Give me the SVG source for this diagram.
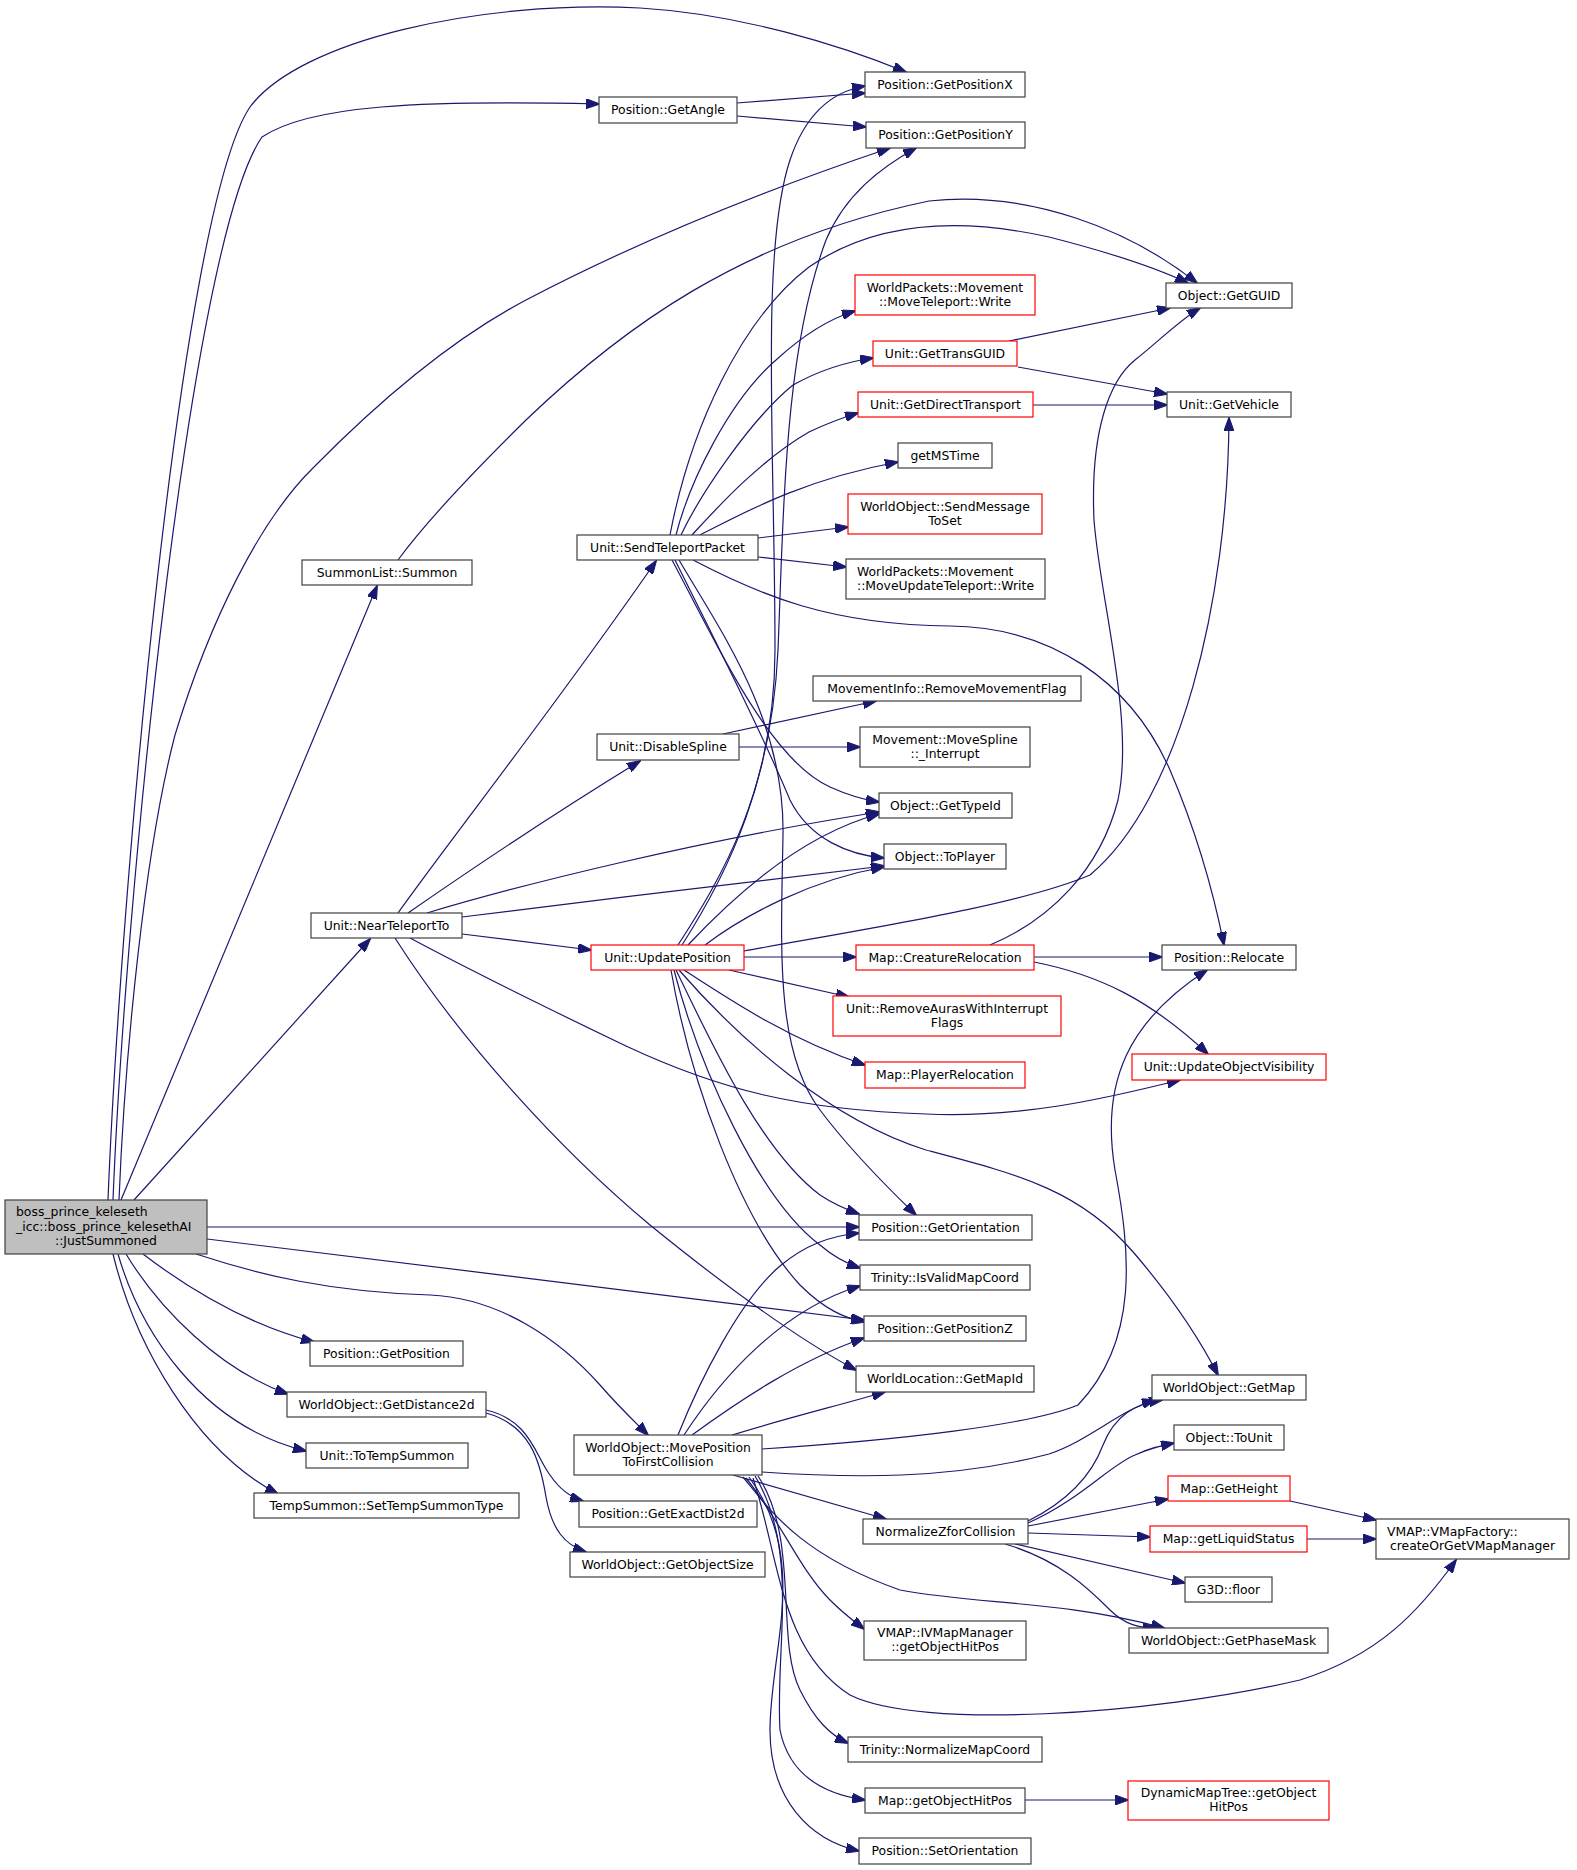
<svg xmlns="http://www.w3.org/2000/svg" width="1577" height="1870" viewBox="0 0 1577 1870">
<style>
rect{fill:#fff;stroke:#404040;stroke-width:1.2}
.r rect{stroke:#ff0000}
.m rect{fill:#bfbfbf}
text{font-family:"DejaVu Sans","Liberation Sans",sans-serif;font-size:12.4px;fill:#000;text-anchor:middle}
text.l{text-anchor:start}
#edges path{fill:none;stroke:#191970;stroke-width:1.2;marker-end:url(#a)}
</style>
<defs>
<marker id="a" markerWidth="14" markerHeight="10" refX="13" refY="5" orient="auto" markerUnits="userSpaceOnUse"><path d="M0,0 L14,5 L0,10 z" fill="#191970" stroke="#191970" stroke-width="1"/></marker>
</defs>
<rect x="0" y="0" width="1577" height="1870" style="fill:#fff;stroke:none"/>
<g id="edges">
<path d="M108,1200 C120,900 180,210 250,107 C300,40 480,0 640,8 C740,14 840,45 906,72"/>
<path d="M113,1200 C125,900 190,240 262,137 C310,105 420,100 599,104"/>
<path d="M119,1200 C125,1050 145,850 175,735 C210,620 260,520 313,468 C380,400 450,340 526,300 C650,235 780,185 890,148"/>
<path d="M121,1200 L377,586"/>
<path d="M134,1200 L370,939"/>
<path d="M207,1227 L859,1227"/>
<path d="M207,1239 C400,1262 700,1300 864,1320"/>
<path d="M143,1254 C190,1290 250,1325 314,1342"/>
<path d="M126,1254 C160,1310 220,1370 288,1394"/>
<path d="M118,1254 C140,1330 200,1425 306,1451"/>
<path d="M113,1254 C135,1345 195,1450 278,1494"/>
<path d="M196,1254 C260,1275 330,1292 430,1295 C500,1298 560,1340 600,1385 C620,1408 635,1422 648,1435"/>
<path d="M398,913 C450,840 560,700 656,561"/>
<path d="M408,913 C470,870 560,810 640,761"/>
<path d="M427,913 C520,885 700,840 879,812"/>
<path d="M462,917 C600,900 760,880 884,866"/>
<path d="M462,934 L591,950"/>
<path d="M395,938 C460,1040 560,1150 650,1225 C730,1290 800,1340 856,1370"/>
<path d="M410,938 C470,970 530,1000 626,1046 C720,1090 800,1110 926,1114 C1020,1118 1100,1100 1180,1080"/>
<path d="M670,535 C690,430 740,320 809,267 C870,225 950,215 1049,237 C1100,250 1150,265 1188,283"/>
<path d="M398,560 C420,530 460,485 526,420 C620,330 740,240 929,201 C1030,190 1130,230 1197,283"/>
<path d="M676,535 C690,480 730,400 776,360 C800,338 825,320 855,311"/>
<path d="M681,535 C700,495 750,420 793,385 C820,370 845,362 873,358"/>
<path d="M692,535 C715,510 760,460 809,432 C830,422 845,417 858,413"/>
<path d="M700,535 C740,515 800,480 898,462"/>
<path d="M758,538 L848,527"/>
<path d="M758,557 L846,567"/>
<path d="M693,560 C760,595 830,625 950,626 C1050,627 1130,680 1170,770 C1200,840 1215,900 1224,945"/>
<path d="M672,560 C720,650 770,760 830,787 C850,796 865,800 879,802"/>
<path d="M675,560 C720,650 765,740 790,800 C810,840 850,855 884,858"/>
<path d="M679,560 C720,630 785,720 783,835 C781,950 775,1050 820,1110 C850,1150 890,1190 916,1215"/>
<path d="M678,945 C720,880 775,790 775,650 C775,450 760,250 790,160 C805,115 830,92 865,86"/>
<path d="M682,945 C730,870 772,780 778,650 C784,500 785,350 826,240 C845,195 880,168 916,148"/>
<path d="M688,945 C730,900 800,835 879,814"/>
<path d="M705,945 C745,915 810,880 884,867"/>
<path d="M744,951 C870,928 1020,905 1090,875 C1180,800 1228,600 1229,418"/>
<path d="M744,957 L856,957"/>
<path d="M729,970 L849,997"/>
<path d="M684,970 C730,1000 790,1040 865,1065"/>
<path d="M679,970 C740,1040 830,1120 926,1150 C1020,1175 1080,1190 1134,1253 C1170,1295 1200,1340 1218,1375"/>
<path d="M676,970 C710,1040 760,1150 820,1195 C835,1205 848,1210 859,1214"/>
<path d="M674,970 C700,1070 760,1200 820,1245 C835,1258 848,1264 860,1268"/>
<path d="M671,970 C690,1080 740,1220 800,1285 C825,1310 845,1318 864,1322"/>
<path d="M1034,957 L1162,957"/>
<path d="M990,945 C1050,920 1100,870 1118,800 C1135,720 1100,600 1094,520 C1090,430 1110,380 1135,360 C1160,340 1180,320 1200,308"/>
<path d="M1034,962 C1100,975 1150,1000 1208,1054"/>
<path d="M1009,341 L1170,308"/>
<path d="M1018,367 L1167,394"/>
<path d="M1033,405 L1167,405"/>
<path d="M737,103 L865,93"/>
<path d="M737,116 L866,127"/>
<path d="M723,734 L876,701"/>
<path d="M739,747 L860,747"/>
<path d="M678,1435 C700,1380 740,1300 780,1266 C805,1245 830,1236 859,1233"/>
<path d="M684,1435 C720,1380 780,1310 860,1286"/>
<path d="M692,1435 C740,1400 800,1360 864,1338"/>
<path d="M732,1435 C780,1420 840,1405 885,1392"/>
<path d="M762,1449 C900,1440 1030,1425 1078,1405 C1140,1340 1130,1250 1115,1170 C1100,1080 1130,1020 1207,970"/>
<path d="M762,1472 C850,1478 950,1480 1049,1454 C1090,1440 1120,1410 1155,1400"/>
<path d="M733,1475 L886,1519"/>
<path d="M743,1477 C770,1510 800,1555 900,1590 C980,1605 1060,1600 1164,1628"/>
<path d="M746,1478 C780,1520 800,1570 830,1600 C845,1615 855,1622 864,1629"/>
<path d="M753,1478 C780,1560 780,1650 850,1695 C920,1730 1150,1715 1300,1680 C1380,1655 1420,1610 1456,1560"/>
<path d="M758,1476 C800,1540 775,1640 800,1690 C815,1720 830,1735 848,1743"/>
<path d="M755,1476 C800,1550 775,1650 780,1730 C790,1780 830,1795 865,1800"/>
<path d="M749,1477 C810,1560 770,1650 770,1730 C770,1800 810,1840 859,1851"/>
<path d="M486,1410 C530,1420 535,1455 550,1475 C560,1490 570,1497 583,1501"/>
<path d="M486,1413 C530,1425 540,1460 546,1497 C552,1530 565,1545 586,1552"/>
<path d="M1028,1521 C1060,1505 1090,1480 1103,1445 C1115,1415 1135,1404 1162,1400"/>
<path d="M1028,1523 C1080,1500 1110,1465 1135,1455 C1150,1448 1160,1446 1174,1443"/>
<path d="M1028,1526 L1168,1499"/>
<path d="M1028,1533 L1150,1537"/>
<path d="M1015,1544 L1185,1583"/>
<path d="M1005,1544 C1060,1560 1090,1590 1110,1610 C1125,1625 1140,1628 1156,1628"/>
<path d="M1290,1501 L1376,1520"/>
<path d="M1307,1539 L1376,1539"/>
<path d="M1025,1800 L1128,1800"/>
</g>
<g id="n1" class="m"><rect x="5" y="1200" width="202" height="54"/><text class="l" x="16" y="1216">boss_prince_keleseth</text><text class="l" x="16" y="1230.5">_icc::boss_prince_kelesethAI</text><text x="106" y="1245">::JustSummoned</text></g>
<g id="n2"><rect x="865" y="72" width="160" height="25"/><text x="945" y="88.5">Position::GetPositionX</text></g>
<g id="n3"><rect x="599" y="97" width="138" height="26"/><text x="668" y="114">Position::GetAngle</text></g>
<g id="n4"><rect x="866" y="122" width="159" height="26"/><text x="945.5" y="139">Position::GetPositionY</text></g>
<g id="n5"><rect x="1166" y="283" width="126" height="25"/><text x="1229" y="299.5">Object::GetGUID</text></g>
<g id="n6" class="r"><rect x="855" y="275" width="180" height="40"/><text x="945" y="291.5">WorldPackets::Movement</text><text x="945" y="305.5">::MoveTeleport::Write</text></g>
<g id="n7" class="r"><rect x="873" y="341" width="144" height="25"/><text x="945" y="357.5">Unit::GetTransGUID</text></g>
<g id="n8"><rect x="1167" y="392" width="124" height="25"/><text x="1229" y="408.5">Unit::GetVehicle</text></g>
<g id="n9" class="r"><rect x="858" y="392" width="175" height="25"/><text x="945.5" y="408.5">Unit::GetDirectTransport</text></g>
<g id="n10"><rect x="898" y="443" width="94" height="25"/><text x="945" y="459.5">getMSTime</text></g>
<g id="n11"><rect x="302" y="560" width="170" height="25"/><text x="387" y="576.5">SummonList::Summon</text></g>
<g id="n12" class="r"><rect x="848" y="494" width="194" height="40"/><text x="945" y="510.5">WorldObject::SendMessage</text><text x="945" y="524.5">ToSet</text></g>
<g id="n13"><rect x="577" y="535" width="181" height="25"/><text x="667.5" y="551.5">Unit::SendTeleportPacket</text></g>
<g id="n14"><rect x="846" y="559" width="199" height="40"/><text class="l" x="857" y="575.5">WorldPackets::Movement</text><text x="945.5" y="589.5">::MoveUpdateTeleport::Write</text></g>
<g id="n15"><rect x="813" y="676" width="268" height="25"/><text x="947" y="692.5">MovementInfo::RemoveMovementFlag</text></g>
<g id="n16"><rect x="860" y="727" width="170" height="40"/><text x="945" y="743.5">Movement::MoveSpline</text><text x="945" y="757.5">::_Interrupt</text></g>
<g id="n17"><rect x="597" y="734" width="142" height="26"/><text x="668" y="751">Unit::DisableSpline</text></g>
<g id="n18"><rect x="879" y="793" width="133" height="25"/><text x="945.5" y="809.5">Object::GetTypeId</text></g>
<g id="n19"><rect x="884" y="844" width="122" height="25"/><text x="945" y="860.5">Object::ToPlayer</text></g>
<g id="n20"><rect x="311" y="913" width="151" height="25"/><text x="386.5" y="929.5">Unit::NearTeleportTo</text></g>
<g id="n21" class="r"><rect x="591" y="945" width="153" height="25"/><text x="667.5" y="961.5">Unit::UpdatePosition</text></g>
<g id="n22" class="r"><rect x="856" y="945" width="178" height="25"/><text x="945" y="961.5">Map::CreatureRelocation</text></g>
<g id="n23"><rect x="1162" y="945" width="134" height="25"/><text x="1229" y="961.5">Position::Relocate</text></g>
<g id="n24" class="r"><rect x="833" y="996" width="228" height="40"/><text x="947" y="1012.5">Unit::RemoveAurasWithInterrupt</text><text x="947" y="1026.5">Flags</text></g>
<g id="n25" class="r"><rect x="865" y="1062" width="160" height="26"/><text x="945" y="1079">Map::PlayerRelocation</text></g>
<g id="n26" class="r"><rect x="1132" y="1054" width="194" height="26"/><text x="1229" y="1071">Unit::UpdateObjectVisibility</text></g>
<g id="n27"><rect x="859" y="1215" width="173" height="25"/><text x="945.5" y="1231.5">Position::GetOrientation</text></g>
<g id="n28"><rect x="860" y="1265" width="170" height="25"/><text x="945" y="1281.5">Trinity::IsValidMapCoord</text></g>
<g id="n29"><rect x="864" y="1316" width="162" height="25"/><text x="945" y="1332.5">Position::GetPositionZ</text></g>
<g id="n30"><rect x="310" y="1341" width="153" height="25"/><text x="386.5" y="1357.5">Position::GetPosition</text></g>
<g id="n31"><rect x="856" y="1366" width="178" height="26"/><text x="945" y="1383">WorldLocation::GetMapId</text></g>
<g id="n32"><rect x="1152" y="1375" width="154" height="25"/><text x="1229" y="1391.5">WorldObject::GetMap</text></g>
<g id="n33"><rect x="287" y="1392" width="199" height="25"/><text x="386.5" y="1408.5">WorldObject::GetDistance2d</text></g>
<g id="n34"><rect x="1174" y="1425" width="110" height="25"/><text x="1229" y="1441.5">Object::ToUnit</text></g>
<g id="n35"><rect x="574" y="1435" width="188" height="40"/><text x="668" y="1451.5">WorldObject::MovePosition</text><text x="668" y="1465.5">ToFirstCollision</text></g>
<g id="n36"><rect x="306" y="1443" width="162" height="25"/><text x="387" y="1459.5">Unit::ToTempSummon</text></g>
<g id="n37" class="r"><rect x="1168" y="1476" width="122" height="25"/><text x="1229" y="1492.5">Map::GetHeight</text></g>
<g id="n38"><rect x="254" y="1493" width="265" height="25"/><text x="386.5" y="1509.5">TempSummon::SetTempSummonType</text></g>
<g id="n39"><rect x="579" y="1501" width="178" height="26"/><text x="668" y="1518">Position::GetExactDist2d</text></g>
<g id="n40"><rect x="863" y="1519" width="165" height="25"/><text x="945.5" y="1535.5">NormalizeZforCollision</text></g>
<g id="n41" class="r"><rect x="1150" y="1526" width="157" height="26"/><text x="1228.5" y="1543">Map::getLiquidStatus</text></g>
<g id="n42"><rect x="1376" y="1519" width="193" height="40"/><text class="l" x="1387" y="1535.5">VMAP::VMapFactory::</text><text x="1472.5" y="1549.5">createOrGetVMapManager</text></g>
<g id="n43"><rect x="570" y="1552" width="195" height="25"/><text x="667.5" y="1568.5">WorldObject::GetObjectSize</text></g>
<g id="n44"><rect x="1185" y="1577" width="87" height="25"/><text x="1228.5" y="1593.5">G3D::floor</text></g>
<g id="n45"><rect x="864" y="1621" width="162" height="39"/><text x="945" y="1637">VMAP::IVMapManager</text><text x="945" y="1651">::getObjectHitPos</text></g>
<g id="n46"><rect x="1129" y="1628" width="199" height="25"/><text x="1228.5" y="1644.5">WorldObject::GetPhaseMask</text></g>
<g id="n47"><rect x="848" y="1737" width="194" height="25"/><text x="945" y="1753.5">Trinity::NormalizeMapCoord</text></g>
<g id="n48" class="r"><rect x="1128" y="1781" width="201" height="39"/><text x="1228.5" y="1797">DynamicMapTree::getObject</text><text x="1228.5" y="1811">HitPos</text></g>
<g id="n49"><rect x="865" y="1788" width="160" height="25"/><text x="945" y="1804.5">Map::getObjectHitPos</text></g>
<g id="n50"><rect x="859" y="1838" width="172" height="26"/><text x="945" y="1855">Position::SetOrientation</text></g>
</svg>
